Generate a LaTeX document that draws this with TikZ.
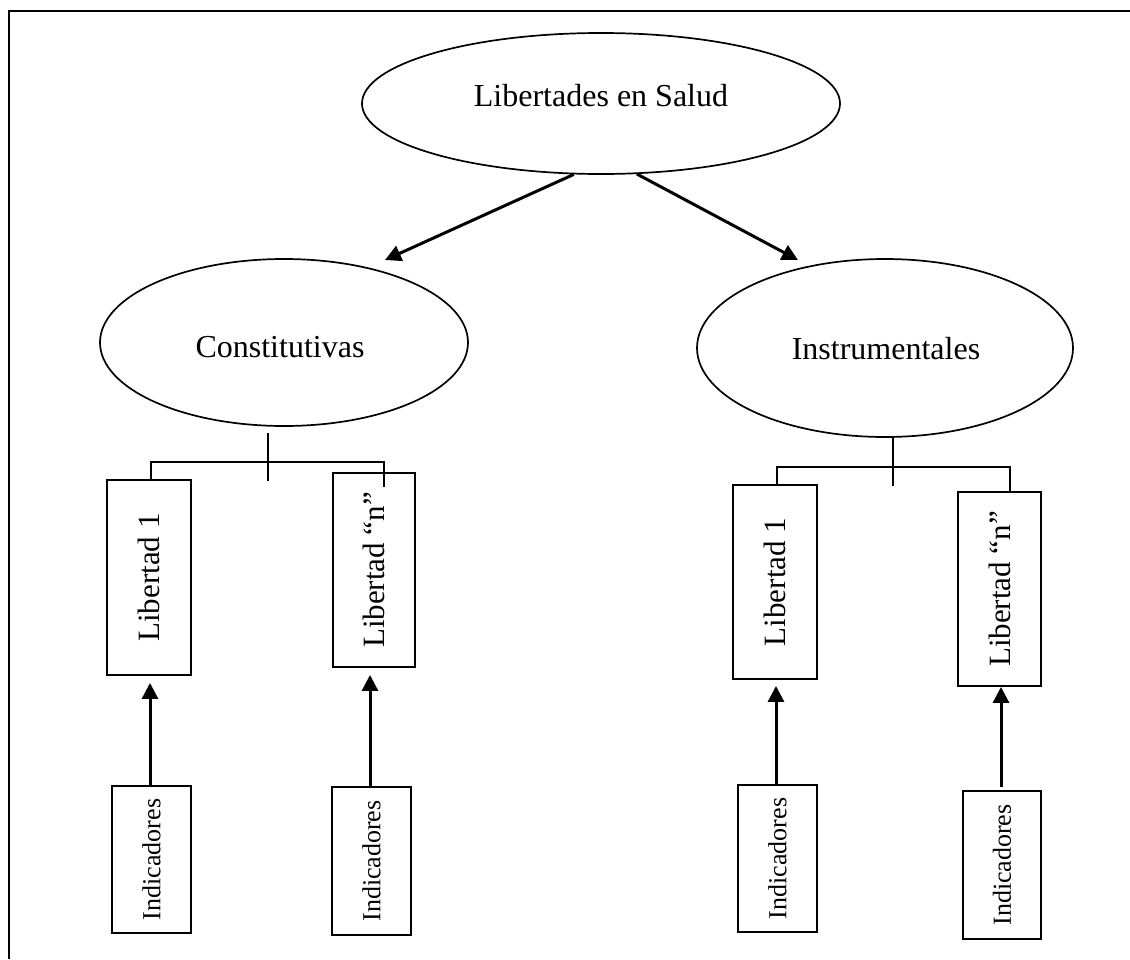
\documentclass[tikz,border=0pt]{standalone}
\usepackage{fontspec}
\setmainfont{Liberation Serif}
\usetikzlibrary{shapes.geometric,arrows.meta}

\tikzset{
  oval/.style={ellipse,draw,line width=1.7pt,inner sep=0pt},
  bigtext/.style={font=\fontsize{32}{38}\selectfont,inner sep=0pt},
  libbox/.style={draw,line width=1.9pt,inner sep=0pt},
  libtext/.style={font=\fontsize{31}{37}\selectfont,rotate=90,inner sep=0pt},
  indtext/.style={font=\fontsize{26}{31}\selectfont,rotate=90,inner sep=0pt},
  flow/.style={line width=3pt,-{Triangle[length=16pt,width=16pt]}},
  branch/.style={line width=1.7pt},
}

\begin{document}
\begin{tikzpicture}[x=1pt,y=-1pt]
\useasboundingbox (0,0) rectangle (1130,959);

% page frame (only top and left edges fall inside the picture)
\draw[line width=1.9pt] (9,959) -- (9,11) -- (1130,11);

% ellipses
\node[oval,minimum width=478,minimum height=141] (top) at (601,103.5) {};
\node[bigtext] (toptxt) at (601,96) {Libertades en Salud};
\node[oval,minimum width=368,minimum height=167] (cons) at (284,342.5) {};
\node[bigtext] (constxt) at (280,347) {Constitutivas};
\node[oval,minimum width=376,minimum height=178] (inst) at (885,348) {};
\node[bigtext] (insttxt) at (886,349) {Instrumentales};

% arrows from the root
\coordinate (tipL) at (385,260);
\coordinate (tipR) at (798,260);
\draw[flow] (top.249.8) -- (tipL);
\draw[flow] (top.297.7) -- (tipR);

% freedom boxes
\node[libbox,minimum width=84,minimum height=195] (libL1) at (149,577.5) {};
\node[libtext] at (libL1.center) {Libertad 1};
\node[libbox,minimum width=82,minimum height=194] (libLn) at (374,570) {};
\node[libtext] at (libLn.center) {Libertad “n”};
\node[libbox,minimum width=84,minimum height=194] (libR1) at (775,582) {};
\node[libtext] at (libR1.center) {Libertad 1};
\node[libbox,minimum width=83,minimum height=194] (libRn) at (999.5,589) {};
\node[libtext] at (libRn.center) {Libertad “n”};

% indicator boxes
\node[libbox,minimum width=79,minimum height=147] (indL1) at (151.5,859.5) {};
\node[indtext] at (indL1.center) {Indicadores};
\node[libbox,minimum width=79,minimum height=148] (indLn) at (371.5,861) {};
\node[indtext] at (indLn.center) {Indicadores};
\node[libbox,minimum width=79,minimum height=147] (indR1) at (777.5,858.5) {};
\node[indtext] at (indR1.center) {Indicadores};
\node[libbox,minimum width=78,minimum height=148] (indRn) at (1002,865) {};
\node[indtext] at (indRn.center) {Indicadores};

% left branch
\coordinate (stemLa) at (268,433);
\coordinate (stemLb) at (268,481);
\coordinate (barL1) at (151,462);
\coordinate (barLn) at (384,462);
\coordinate (dropLn) at (384,487);
\draw[branch] (stemLa) -- (stemLb);
\draw[branch] (barL1 |- libL1.north) -- (barL1) -- (barLn) -- (dropLn);

% right branch
\coordinate (stemRa) at (893,437);
\coordinate (stemRb) at (893,486);
\coordinate (barR1) at (777,467);
\coordinate (barRn) at (1010,467);
\draw[branch] (stemRa) -- (stemRb);
\draw[branch] (barR1 |- libR1.north) -- (barR1) -- (barRn) -- (barRn |- libRn.north);

% indicator arrows
\coordinate (colL1) at (150,0);
\coordinate (colLn) at (370,0);
\coordinate (colR1) at (776,0);
\coordinate (colRn) at (1001,0);
\coordinate (startRn) at (1001,787);
\draw[flow,shorten >=7pt] (colL1 |- indL1.north) -- (colL1 |- libL1.south);
\draw[flow,shorten >=7pt] (colLn |- indLn.north) -- (colLn |- libLn.south);
\draw[flow,shorten >=6pt] (colR1 |- indR1.north) -- (colR1 |- libR1.south);
\draw[flow] (startRn) -- (colRn |- libRn.south);
\end{tikzpicture}
\end{document}
